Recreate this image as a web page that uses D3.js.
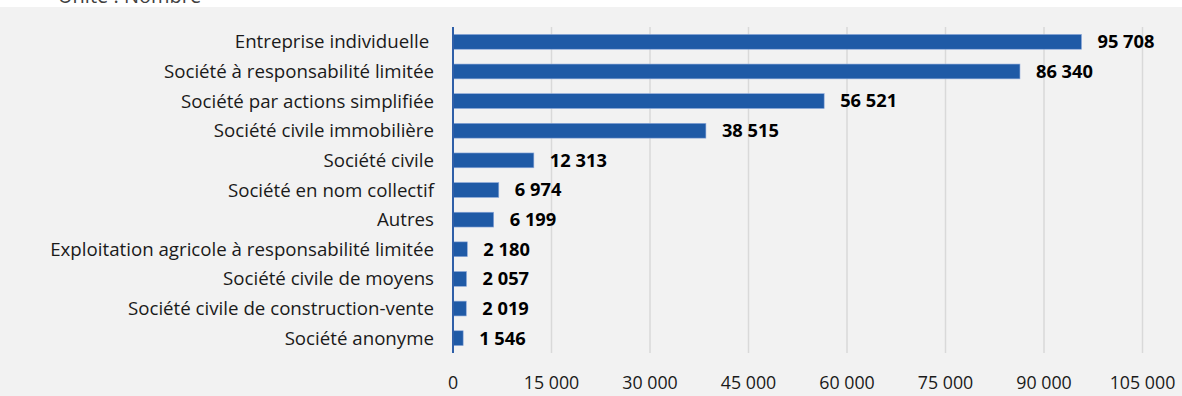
<!DOCTYPE html>
<html><head><meta charset="utf-8">
<script src="https://cdn.jsdelivr.net/npm/d3@7"></script>
<style>
html,body{margin:0;padding:0;background:#fff;}
svg{display:block;}
</style></head>
<body>
<svg id="chart" width="1182" height="396"></svg>
<script>
const categories = [
  "Entreprise individuelle ",
  "Société à responsabilité limitée",
  "Société par actions simplifiée",
  "Société civile immobilière",
  "Société civile",
  "Société en nom collectif",
  "Autres",
  "Exploitation agricole à responsabilité limitée",
  "Société civile de moyens",
  "Société civile de construction-vente",
  "Société anonyme"
];
const values = [95708, 86340, 56521, 38515, 12313, 6974, 6199, 2180, 2057, 2019, 1546];
const tickValues = [0, 15000, 30000, 45000, 60000, 75000, 90000, 105000];
const unitLabel = "Unité : Nombre";

(function(){
const W = 1182, H = 396;
const svg = d3.select("#chart");
const FONT = "'Open Sans', 'Noto Sans', sans-serif";

svg.append("rect").attr("x",0).attr("y",7).attr("width",W).attr("height",H-7).attr("fill","#f2f2f2");
svg.append("text").attr("x",58).attr("y",2.5).attr("font-family",FONT).attr("font-size",20)
  .attr("fill","#404040").text(unitLabel);

const x0 = 453, xEnd = 453 + 7*98.5;
const pTop = 27, pBottom = 353;
const x = d3.scaleLinear().domain([0,105000]).range([x0, xEnd]);
const y = d3.scaleBand().domain(categories).range([pTop, pBottom]).paddingInner(0.5).paddingOuter(0.25);

const fmt = v => d3.format(",")(v).replace(/,/g, " ");

svg.append("g").selectAll("line").data(tickValues.slice(1)).join("line")
  .attr("x1", d=>x(d)).attr("x2", d=>x(d)).attr("y1", pTop).attr("y2", pBottom)
  .attr("stroke","#d9d9d9").attr("stroke-width",1.5);

svg.append("g").selectAll("rect").data(values).join("rect")
  .attr("x", x(0)).attr("y", (d,i)=>y(categories[i]))
  .attr("width", d=>x(d)-x(0)).attr("height", y.bandwidth())
  .attr("fill","#1f5aa6").attr("stroke","#8eaadb").attr("stroke-width",0.6);

svg.append("line").attr("x1",x0).attr("x2",x0).attr("y1",pTop).attr("y2",pBottom)
  .attr("stroke","#2f5fa8").attr("stroke-width",2);

svg.append("g").selectAll("text").data(categories).join("text")
  .attr("x", 434).attr("y", d=>y(d)+y.bandwidth()/2).attr("dy","0.35em")
  .attr("text-anchor","end").attr("font-family",FONT).attr("font-size",18.7)
  .attr("fill","#1a1a1a").style("white-space","pre").text(d=>d);

svg.append("g").selectAll("text").data(values).join("text")
  .attr("x", d=>x(d)+16).attr("y", (d,i)=>y(categories[i])+y.bandwidth()/2).attr("dy","0.35em")
  .attr("font-family",FONT).attr("font-size",18.3).attr("font-weight","bold")
  .attr("fill","#000").text(d=>fmt(d));

svg.append("g").selectAll("text").data(tickValues).join("text")
  .attr("x", d=>x(d)).attr("y", 383).attr("dy","0.35em").attr("text-anchor","middle")
  .attr("font-family",FONT).attr("font-size",17.8).attr("fill","#1a1a1a").text(d=>fmt(d));
})();
</script>
</body></html>
